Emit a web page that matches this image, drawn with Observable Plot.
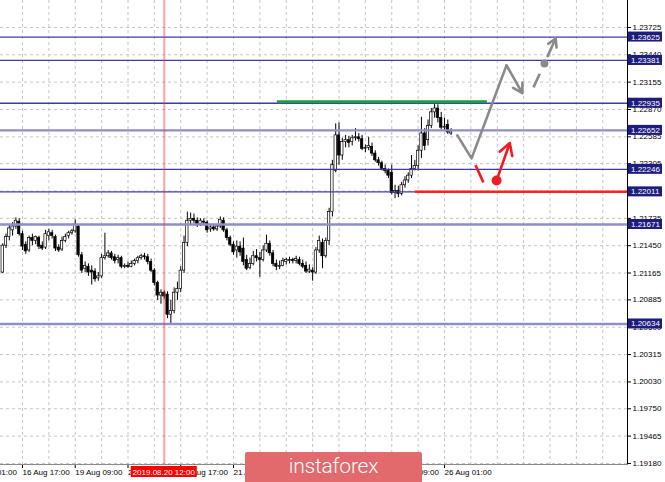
<!DOCTYPE html>
<html>
<head>
<meta charset="utf-8">
<script src="https://cdn.jsdelivr.net/npm/d3@7"></script>
<script src="https://cdn.jsdelivr.net/npm/@observablehq/plot@0.6"></script>
<style>
  html, body { margin: 0; padding: 0; background: #fff; }
  #wrap { position: relative; width: 665px; height: 482px; overflow: hidden; }
  #logo { position: absolute; left: 245px; top: 452px; width: 177px; height: 32px;
          background: #e2696c; border-radius: 2px 2px 0 0; color: #fff;
          font-family: Roboto, "Open Sans", sans-serif; font-weight: 300; font-size: 21px;
          line-height: 29px; text-align: center; letter-spacing: -0.2px; }
</style>
</head>
<body>
<div id="wrap"><div id="chart"></div><div id="logo">instaforex</div></div>
<script>
// ---- Data (EURUSD-like H1 candles, bar index 0 = 16 Aug 01:00) ----
const firstBar = 10;
const open = [1.2117,1.2145,1.2154,1.2161,1.2165,1.2170,1.2157,1.2146,1.2140,1.2153,
1.2150,1.2153,1.2145,1.2143,1.2155,1.2158,1.2154,1.2143,1.2141,1.2150,
1.2155,1.2158,1.2160,1.2165,1.2135,1.2121,1.2123,1.2119,1.2118,1.2111,
1.2113,1.2132,1.2134,1.2137,1.2133,1.2130,1.2132,1.2123,1.2124,1.2123,
1.2126,1.2129,1.2132,1.2134,1.2133,1.2128,1.2119,1.2106,1.2093,1.2096,
1.2094,1.2073,1.2077,1.2096,1.2100,1.2119,1.2148,1.2171,1.2173,1.2171,
1.2167,1.2170,1.2169,1.2162,1.2164,1.2162,1.2165,1.2171,1.2161,1.2153,
1.2146,1.2140,1.2144,1.2142,1.2130,1.2122,1.2126,1.2134,1.2132,1.2130,
1.2140,1.2147,1.2137,1.2126,1.2123,1.2124,1.2128,1.2129,1.2130,1.2129,
1.2130,1.2126,1.2124,1.2118,1.2119,1.2117,1.2140,1.2148,1.2134,1.2150,
1.2180,1.2223,1.2260,1.2239,1.2253,1.2255,1.2253,1.2257,1.2258,1.2256,
1.2246,1.2247,1.2248,1.2241,1.2234,1.2231,1.2225,1.2223,1.2221,1.2200,
1.2202,1.2199,1.2208,1.2213,1.2218,1.2225,1.2228,1.2244,1.2262,1.2255,
1.2270,1.2284,1.2288,1.2278,1.2268,1.2271,1.2262];
const high = [1.2147,1.2157,1.2166,1.2169,1.2174,1.2173,1.2160,1.2149,1.2155,1.2157,
1.2155,1.2155,1.2149,1.2161,1.2162,1.2161,1.2156,1.2146,1.2154,1.2157,
1.2160,1.2162,1.2172,1.2167,1.2138,1.2128,1.2126,1.2124,1.2121,1.2117,
1.2136,1.2158,1.2140,1.2139,1.2136,1.2135,1.2134,1.2126,1.2128,1.2129,
1.2131,1.2134,1.2136,1.2137,1.2136,1.2131,1.2121,1.2108,1.2099,1.2098,
1.2097,1.2088,1.2101,1.2107,1.2123,1.2155,1.2180,1.2179,1.2178,1.2174,
1.2173,1.2173,1.2171,1.2167,1.2166,1.2167,1.2175,1.2174,1.2163,1.2155,
1.2149,1.2150,1.2149,1.2153,1.2135,1.2132,1.2139,1.2141,1.2138,1.2145,
1.2156,1.2150,1.2140,1.2130,1.2129,1.2132,1.2132,1.2133,1.2132,1.2134,
1.2133,1.2130,1.2128,1.2125,1.2122,1.2143,1.2155,1.2152,1.2153,1.2184,
1.2234,1.2272,1.2273,1.2257,1.2260,1.2259,1.2260,1.2267,1.2262,1.2260,
1.2250,1.2258,1.2252,1.2244,1.2237,1.2233,1.2229,1.2225,1.2229,1.2208,
1.2207,1.2211,1.2217,1.2221,1.2239,1.2234,1.2249,1.2279,1.2267,1.2276,
1.2288,1.2293,1.2292,1.2284,1.2278,1.2276,1.2267];
const low = [1.2116,1.2142,1.2150,1.2155,1.2162,1.2155,1.2140,1.2136,1.2138,1.2145,
1.2146,1.2141,1.2140,1.2141,1.2150,1.2152,1.2139,1.2138,1.2139,1.2148,
1.2152,1.2156,1.2158,1.2133,1.2116,1.2117,1.2113,1.2104,1.2107,1.2108,
1.2111,1.2130,1.2132,1.2130,1.2126,1.2126,1.2121,1.2121,1.2121,1.2122,
1.2124,1.2126,1.2130,1.2130,1.2125,1.2117,1.2103,1.2088,1.2084,1.2089,
1.2069,1.2063,1.2074,1.2088,1.2096,1.2116,1.2144,1.2167,1.2168,1.2164,
1.2165,1.2166,1.2158,1.2159,1.2160,1.2160,1.2163,1.2159,1.2150,1.2144,
1.2135,1.2132,1.2134,1.2124,1.2119,1.2120,1.2124,1.2128,1.2112,1.2128,
1.2138,1.2134,1.2123,1.2119,1.2120,1.2123,1.2125,1.2126,1.2126,1.2126,
1.2124,1.2121,1.2116,1.2116,1.2108,1.2115,1.2137,1.2121,1.2132,1.2145,
1.2175,1.2221,1.2229,1.2234,1.2247,1.2247,1.2249,1.2254,1.2253,1.2244,
1.2242,1.2244,1.2238,1.2232,1.2228,1.2223,1.2220,1.2215,1.2198,1.2194,
1.2195,1.2197,1.2205,1.2210,1.2215,1.2223,1.2223,1.2236,1.2244,1.2249,
1.2267,1.2278,1.2273,1.2266,1.2265,1.2261,1.2260];
const close = [1.2145,1.2154,1.2163,1.2165,1.2171,1.2157,1.2144,1.2139,1.2153,1.2150,
1.2154,1.2144,1.2142,1.2157,1.2159,1.2155,1.2142,1.2140,1.2150,1.2154,
1.2158,1.2160,1.2167,1.2135,1.2119,1.2124,1.2117,1.2117,1.2110,1.2113,
1.2132,1.2134,1.2137,1.2132,1.2129,1.2132,1.2123,1.2124,1.2123,1.2126,
1.2129,1.2132,1.2134,1.2133,1.2128,1.2119,1.2106,1.2093,1.2096,1.2092,
1.2073,1.2077,1.2096,1.2100,1.2119,1.2148,1.2171,1.2173,1.2171,1.2166,
1.2171,1.2169,1.2161,1.2164,1.2162,1.2165,1.2172,1.2161,1.2153,1.2146,
1.2138,1.2144,1.2138,1.2128,1.2121,1.2126,1.2134,1.2132,1.2130,1.2140,
1.2147,1.2137,1.2126,1.2123,1.2124,1.2129,1.2130,1.2130,1.2129,1.2131,
1.2126,1.2123,1.2118,1.2120,1.2117,1.2140,1.2150,1.2134,1.2150,1.2180,
1.2229,1.2260,1.2239,1.2253,1.2255,1.2252,1.2257,1.2258,1.2256,1.2246,
1.2247,1.2249,1.2241,1.2234,1.2231,1.2225,1.2223,1.2218,1.2200,1.2202,
1.2199,1.2208,1.2213,1.2218,1.2225,1.2228,1.2244,1.2262,1.2249,1.2270,
1.2284,1.2288,1.2278,1.2268,1.2269,1.2263,1.2264];

const priceTicks = [1.23725,1.23440,1.23155,1.22870,1.22585,1.22305,1.22020,1.21735,1.21450,
                    1.21165,1.20885,1.20600,1.20315,1.20030,1.19750,1.19465,1.19180];
const levels = [1.23625,1.23381,1.22935,1.22652,1.22246,1.22011,1.21671,1.20634];
const lightLevels = [1.22652,1.21671,1.20634];
const xTickIdx = [0,16,32,48,64,80,96,112,128,144];
const xTickLabels = ["16 Aug 01:00","16 Aug 17:00","19 Aug 09:00","20 Aug 01:00","20 Aug 17:00",
                     "21 Aug 09:00","22 Aug 01:00","22 Aug 17:00","23 Aug 09:00","26 Aug 01:00"];
const gridIdx = d3.range(0, 200, 8);
const markerIdx = 59;
const markerLabel = "2019.08.20 12:00";

// forecast annotations (bar index, price)
const greenLevel = [{from: 93.3, to: 157, price: 1.2295}];
const redLevel = [{from: 135.2, to: 199.5, price: 1.22011}];
const grayPath = [{i:147.9, p:1.2260},{i:152.2, p:1.2236},{i:162.8, p:1.2333}];
const grayArrow = [{i1:162.8, p1:1.2333, i2:167.6, p2:1.2304}];
const grayDash = [{i1:171.0, p1:1.2310, i2:174.3, p2:1.2335}];
const grayDot = [{i:174.3, p:1.2335}];
const grayDashArrow = [{i1:174.3, p1:1.2335, i2:177.7, p2:1.2361}];
const redSeg = [{i1:153.4, p1:1.2229, i2:155.8, p2:1.2211}];
const redDot = [{i:159.8, p:1.2213}];
const redArrow = [{i1:159.8, p1:1.2213, i2:163.8, p2:1.2252}];

const candles = open.map((o, k) => ({i: firstBar + k, open: o, high: high[k], low: low[k], close: close[k]}));

const GRAY = "#8a8a8a", RED = "#ee1d24";

const plot = Plot.plot({
  width: 665, height: 482,
  marginTop: 0, marginLeft: 0, marginRight: 38, marginBottom: 18,
  style: {fontFamily: '"Liberation Sans", Arial, sans-serif', fontSize: "8px", background: "#fff", color: "#000"},
  x: {type: "linear", domain: [9.33, 199.5], axis: null},
  y: {type: "linear", domain: [1.19169, 1.24006], axis: null},
  marks: [
    Plot.gridX(gridIdx, {stroke: "#c6c6c6", strokeOpacity: 1, strokeDasharray: "3,3"}),
    Plot.gridY(priceTicks, {stroke: "#c6c6c6", strokeOpacity: 1, strokeDasharray: "3,3"}),
    Plot.ruleX(candles, {x: "i", y1: "low", y2: "high", stroke: "#000", strokeWidth: 1}),
    Plot.rect(candles, {x1: d => d.i - 0.36, x2: d => d.i + 0.36, y1: "open", y2: "close",
      fill: d => d.close >= d.open ? "#fff" : "#000", stroke: "#000", strokeWidth: 0.7}),
    Plot.ruleY(levels, {stroke: d => lightLevels.includes(d) ? "#8e8ecb" : "#3c3ca4",
      strokeWidth: d => lightLevels.includes(d) ? 2.4 : 1.3}),
    Plot.ruleX([markerIdx], {stroke: "#ff3030", strokeOpacity: 0.45, strokeWidth: 2}),
    Plot.ruleY(greenLevel, {y: "price", x1: "from", x2: "to", stroke: "#1f9d45", strokeWidth: 3}),
    Plot.ruleY(redLevel, {y: "price", x1: "from", x2: "to", stroke: "#ff1f1f", strokeWidth: 2.5}),
    Plot.line(grayPath, {x: "i", y: "p", stroke: GRAY, strokeWidth: 2.6}),
    Plot.arrow(grayArrow, {x1: "i1", y1: "p1", x2: "i2", y2: "p2", stroke: GRAY, strokeWidth: 2.6, headLength: 13}),
    Plot.link(grayDash, {x1: "i1", y1: "p1", x2: "i2", y2: "p2", stroke: GRAY, strokeWidth: 2.6, strokeDasharray: "15,40"}),
    Plot.dot(grayDot, {x: "i", y: "p", r: 4, fill: GRAY}),
    Plot.arrow(grayDashArrow, {x1: "i1", y1: "p1", x2: "i2", y2: "p2", stroke: GRAY, strokeWidth: 2.6, headLength: 11, insetStart: 8}),
    Plot.link(redSeg, {x1: "i1", y1: "p1", x2: "i2", y2: "p2", stroke: RED, strokeWidth: 2.6}),
    Plot.dot(redDot, {x: "i", y: "p", r: 5, fill: RED}),
    Plot.arrow(redArrow, {x1: "i1", y1: "p1", x2: "i2", y2: "p2", stroke: RED, strokeWidth: 2.6, headLength: 11, insetStart: 4}),
    Plot.axisY(priceTicks, {anchor: "right", tickSize: 3, tickPadding: 2, fontSize: 8,
      tickFormat: d => d.toFixed(5)}),
    Plot.axisX(xTickIdx, {anchor: "bottom", tickSize: 4, tickPadding: 1, fontSize: 8, textAnchor: "start",
      tickFormat: d => xTickLabels[xTickIdx.indexOf(d)]}),
    Plot.frame({anchor: "right", stroke: "#000"}),
    Plot.frame({anchor: "bottom", stroke: "#8a8a8a"})
  ]
});

document.getElementById("chart").appendChild(plot);

// price-level labels and time-marker label, positioned with Plot's scales
const ys = plot.scale("y"), xs = plot.scale("x");
const svg = d3.select(plot);
const g = svg.append("g").attr("font-family", '"Liberation Sans", Arial, sans-serif').attr("font-size", 8);
const right = xs.range[1];
levels.forEach(p => {
  const y = ys.apply(p);
  g.append("rect").attr("x", right + 1).attr("y", y - 5).attr("width", 34).attr("height", 10).attr("fill", "#1d1d7d");
  g.append("text").attr("x", right + 4).attr("y", y + 3).attr("fill", "#fff").attr("text-anchor", "start").text(p.toFixed(5));
});
const mx = xs.apply(markerIdx), bottom = ys.range[0];
g.append("rect").attr("x", mx - 33).attr("y", bottom + 2).attr("width", 66).attr("height", 11).attr("fill", "#ff0000");
g.append("text").attr("x", mx).attr("y", bottom + 10.5).attr("fill", "#fff").attr("text-anchor", "middle").text(markerLabel);
</script>
</body>
</html>
